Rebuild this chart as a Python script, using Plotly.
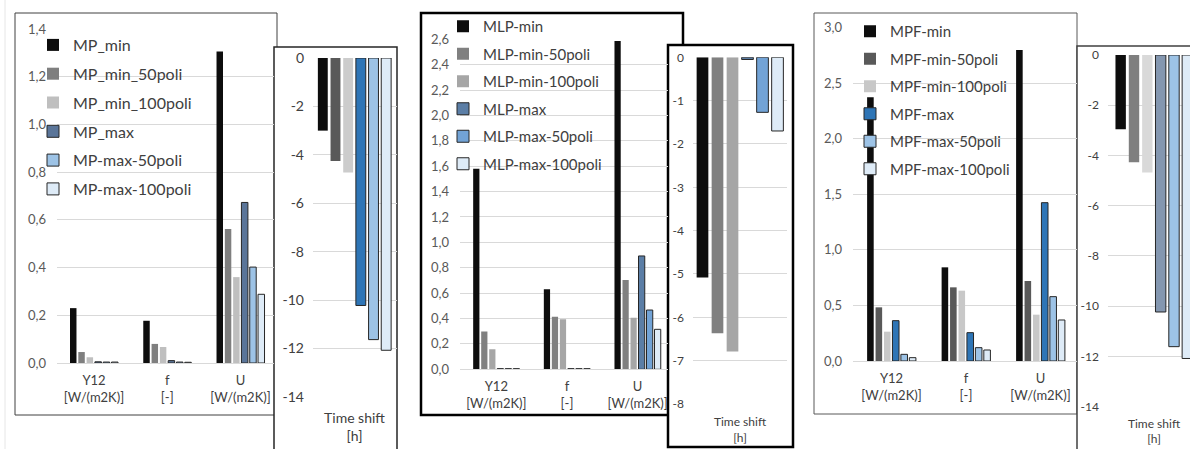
import plotly.graph_objects as go

# data, series order = [Y12, f, U]
categories = ["Y12<br>[W/(m2K)]", "f<br>[-]", "U<br>[W/(m2K)]"]
shift_cat = ["Time shift<br>[h]"]

mp_names = ["MP_min", "MP_min_50poli", "MP_min_100poli", "MP_max", "MP-max-50poli", "MP-max-100poli"]
mp_vals = [
    [0.23, 0.177, 1.306],
    [0.046, 0.080, 0.562],
    [0.024, 0.067, 0.360],
    [0.005, 0.010, 0.673],
    [0.004, 0.004, 0.402],
    [0.004, 0.003, 0.288],
]
mp_shift = [-3.0, -4.25, -4.73, -10.22, -11.63, -12.07]

mlp_names = ["MLP-min", "MLP-min-50poli", "MLP-min-100poli", "MLP-max", "MLP-max-50poli", "MLP-max-100poli"]
mlp_vals = [
    [1.58, 0.63, 2.587],
    [0.297, 0.415, 0.704],
    [0.158, 0.394, 0.407],
    [0.005, 0.005, 0.893],
    [0.005, 0.005, 0.467],
    [0.005, 0.005, 0.315],
]
mlp_shift = [-5.08, -6.37, -6.79, -0.05, -1.27, -1.70]

mpf_names = ["MPF-min", "MPF-min-50poli", "MPF-min-100poli", "MPF-max", "MPF-max-50poli", "MPF-max-100poli"]
mpf_vals = [
    [2.373, 0.843, 2.80],
    [0.483, 0.663, 0.72],
    [0.264, 0.633, 0.417],
    [0.363, 0.255, 1.425],
    [0.06, 0.12, 0.579],
    [0.03, 0.099, 0.369],
]
mpf_shift = [-2.96, -4.27, -4.68, -10.23, -11.61, -12.08]

shift_ticks_14 = [0, -2, -4, -6, -8, -10, -12, -14]
shift_ticks_8 = [0, -1, -2, -3, -4, -5, -6, -7, -8]

# colours
mp_colors = ["#0d0d0d", "#7f7f7f", "#bfbfbf", "#5a7599", "#9dc3e6", "#deebf7"]
mp_shift_colors = ["#0d0d0d", "#595959", "#cccccc", "#2e75b6", "#9dc3e6", "#deebf7"]
mlp_colors = ["#0d0d0d", "#808080", "#a6a6a6", "#5b7ea6", "#72a3d6", "#deebf7"]
mpf_colors = ["#0d0d0d", "#595959", "#c8c8c8", "#2e75b6", "#9dc3e6", "#deebf7"]
mpf_shift_colors = ["#0d0d0d", "#7f7f7f", "#d9d9d9", "#8497b0", "#9dc3e6", "#deebf7"]

W, H = 1190, 449
FONT = "Lato"
GRID = "#d9d9d9"


def fx(p):
    return p / W


def fy(p):
    return 1 - p / H


fig = go.Figure()


def add_main(names, vals, colors, ax, legend):
    for i, (n, v, c) in enumerate(zip(names, vals, colors)):
        fig.add_trace(go.Bar(
            x=categories, y=v, name=n, marker_color=c,
            marker_line=dict(color="#262626", width=1 if i >= 3 else 0),
            xaxis="x" + ax, yaxis="y" + ax, legend=legend, legendgroup=n,
        ))


def add_shift(vals, colors, ax):
    for i, (v, c) in enumerate(zip(vals, colors)):
        fig.add_trace(go.Bar(
            x=shift_cat, y=[v], marker_color=c, showlegend=False,
            marker_line=dict(color="#262626", width=1 if i >= 3 else 0),
            xaxis="x" + ax, yaxis="y" + ax,
        ))


add_main(mp_names, mp_vals, mp_colors, "", "legend")
add_shift(mp_shift, mp_shift_colors, "2")
add_main(mlp_names, mlp_vals, mlp_colors, "3", "legend2")
add_shift(mlp_shift, mlp_colors, "4")
add_main(mpf_names, mpf_vals, mpf_colors, "5", "legend3")
add_shift(mpf_shift, mpf_shift_colors, "6")


def main_axes(xd, xr, yd, yr, dtick, anchor):
    xa = dict(domain=[fx(xd[0]), fx(xd[1])], range=xr, type="category", showgrid=False,
              showline=True, linecolor=GRID, ticks="", anchor="y" + anchor,
              tickfont=dict(size=13, color="#404040"), ticklabelstandoff=5,
              automargin=False)
    ya = dict(domain=[fy(yd[0]), fy(yd[1])], range=yr, dtick=dtick, tickformat=".1f",
              gridcolor=GRID, zeroline=False, showline=False, anchor="x" + anchor,
              tickfont=dict(size=13, color="#595959"), ticklabelstandoff=10,
              automargin=False)
    return xa, ya


def shift_axes(xd, xr, yd, yr, tv, fs, standoff, anchor):
    xa = dict(domain=[fx(xd[0]), fx(xd[1])], range=xr, type="category", showgrid=False,
              showline=False, ticks="", anchor="y" + anchor,
              tickfont=dict(size=fs, color="#404040"), ticklabelstandoff=standoff,
              automargin=False)
    ya = dict(domain=[fy(yd[0]), fy(yd[1])], range=yr, tickvals=tv,
              ticktext=[str(t) for t in tv], gridcolor=GRID, zeroline=False,
              showline=False, anchor="x" + anchor,
              tickfont=dict(size=fs, color="#404040"), ticklabelstandoff=8,
              automargin=False)
    return xa, ya


x1, y1 = main_axes((57, 274), [-0.505, 2.457], (363, 29), [0, 1.4], 0.2, "")
x2, y2 = shift_axes((313, 397), [-0.371, 0.38], (397, 58), [-14, 0], shift_ticks_14, 14, 11, "2")
x3, y3 = main_axes((460, 668), [-0.514, 2.43], (369.3, 39.3), [0, 2.6], 0.2, "3")
x4, y4 = shift_axes((693, 787), [-0.355, 0.355], (404, 57.3), [-8, 0], shift_ticks_8, 12, 9, "4")
x5, y5 = main_axes((853, 1077), [-0.517, 2.49], (361, 27.7), [0, 3.0], 0.5, "5")
x6, y6 = shift_axes((1108, 1190), [-0.391, 0.306], (406.7, 55), [-14, 0], shift_ticks_14, 12, 8, "6")
x1["anchor"] = "y"
y1["anchor"] = "x"


def leg(x, y, size):
    return dict(x=fx(x), y=fy(y), xanchor="left", yanchor="top", bgcolor="rgba(0,0,0,0)",
                font=dict(size=size, color="#404040", family=FONT), tracegroupgap=5,
                itemwidth=30, itemclick=False)


frames = [
    (15, 13, 277, 415, "#404040", 1),
    (274, 47, 397, 452, "#262626", 1.5),
    (421, 13, 683, 415, "#000000", 2.5),
    (668, 45, 793, 447, "#000000", 2.5),
    (814, 13, 1077, 414, "#595959", 1),
    (1077, 46, 1200, 452, "#404040", 1.5),
]
shapes = [dict(type="line", xref="paper", yref="paper", x0=fx(5), x1=fx(5), y0=0, y1=1,
               line=dict(color="#e6e6e6", width=1), layer="below")]
for a, b, c, d, col, lw in frames:
    shapes.append(dict(type="rect", xref="paper", yref="paper", x0=fx(a), x1=fx(c),
                       y0=fy(d), y1=fy(b), fillcolor="white",
                       line=dict(color=col, width=lw), layer="below"))

fig.update_layout(
    width=W, height=H, margin=dict(l=0, r=0, t=0, b=0),
    paper_bgcolor="white", plot_bgcolor="rgba(0,0,0,0)",
    font=dict(family=FONT), separators=",.",
    barmode="group", bargap=0.32, bargroupgap=0.22,
    xaxis=x1, yaxis=y1, xaxis2=x2, yaxis2=y2, xaxis3=x3, yaxis3=y3,
    xaxis4=x4, yaxis4=y4, xaxis5=x5, yaxis5=y5, xaxis6=x6, yaxis6=y6,
    legend=leg(33, 28, 16), legend2=leg(443, 10, 15), legend3=leg(850, 15, 15),
    shapes=shapes,
)

# page body has a default 8px margin; drop it so the figure sits at the window corner
fig.write_html("out.html", config={"displayModeBar": False},
               post_script="document.body.style.margin='0px';")
